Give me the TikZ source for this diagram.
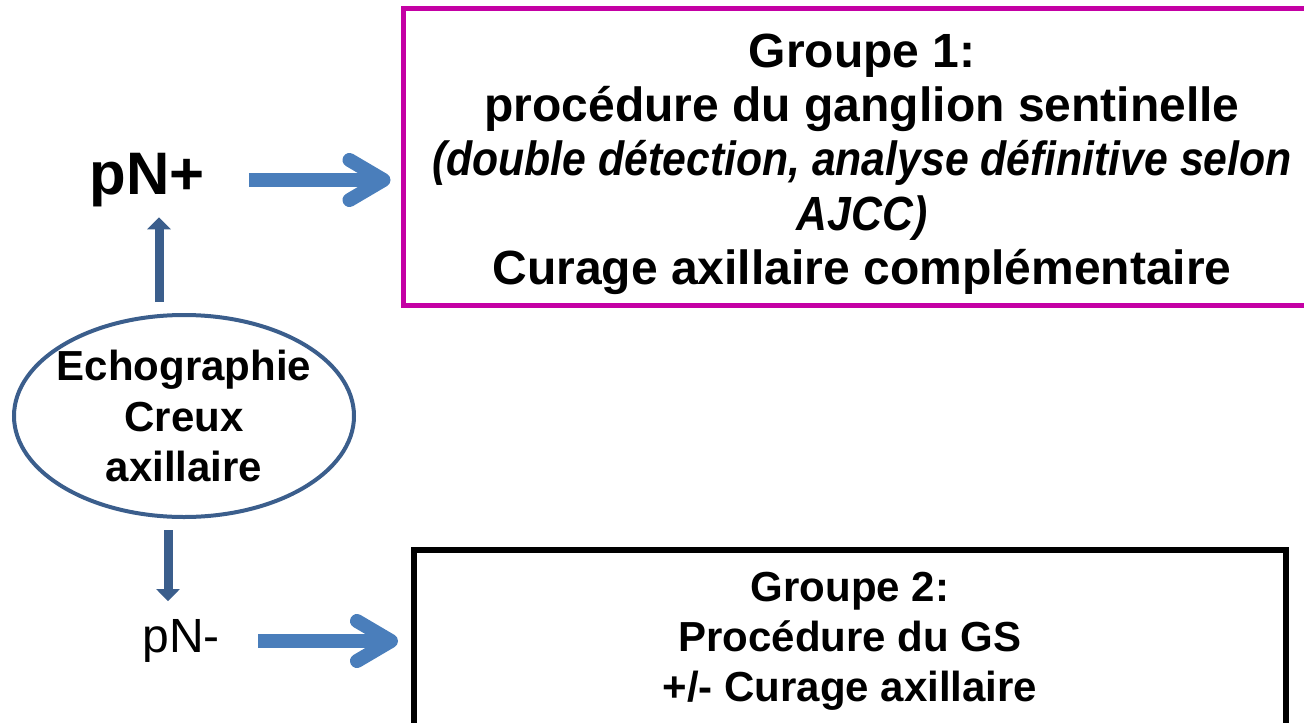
\documentclass[tikz,border=0pt]{standalone}
\usepackage{fontspec}
\setmainfont{Liberation Sans}
\usepackage{tikz}
\usetikzlibrary{arrows.meta,shapes.geometric}
\usepackage{xcolor}
\definecolor{echoblue}{RGB}{59,94,140}
\definecolor{flowblue}{RGB}{74,126,187}
\definecolor{groupmagenta}{RGB}{196,0,164}
\newcommand{\narrowit}[1]{\scalebox{0.89}[1]{\itshape #1}}

\begin{document}
\begin{tikzpicture}[
  x=0.5pt, y=-0.5pt,
  flow/.style={draw=flowblue, line width=7pt,
    -{Straight Barb[length=17pt, width=20pt, round]}},
  stem/.style={draw=echoblue, line width=4.5pt,
    -{Triangle[length=6pt, width=11.5pt]}}
  ]
  \tikzset{every group/.style={rectangle, align=center, font=\bfseries\fontsize{24}{27.2}\selectfont}}
  \tikzstyle{every node}=[inner sep=0pt]
  \useasboundingbox (0,0) rectangle (1304,722);
  \node[ellipse, draw=echoblue, line width=2pt, minimum width=170pt, minimum height=101pt,
    inner xsep=-4pt, inner ysep=-14pt,
    align=center, font=\bfseries\fontsize{21}{25.2}\selectfont] (echo) at (184,416)
    {Echographie\\Creux\\axillaire};
  \node[font=\bfseries\fontsize{30}{32}\selectfont] (pNplus) at (147,180) {pN+};
  \node[font=\fontsize{24}{26}\selectfont] (pNminus) at (181,641) {pN-};
  \node[every group, draw=groupmagenta, line width=2.5pt, minimum width=459pt, minimum height=148pt]
    (groupone) at (862,157)
    {\rule{0pt}{24pt}Groupe 1:\\procédure du ganglion sentinelle\\
     \narrowit{(double détection, analyse définitive selon}\\\narrowit{AJCC)}\\
     Curage axillaire complémentaire};
  \node[every group, draw=black, line width=3pt, minimum width=436pt, minimum height=91pt,
    font=\bfseries\fontsize{21}{25}\selectfont]
    (grouptwo) at (850,641)
    {Groupe 2:\\Procédure du GS\\+/- Curage axillaire};
  \coordinate (upx) at (159,0);
  \coordinate (downx) at (168,0);
  % connectors
  \draw[stem, shorten <=5.5pt, shorten >=5pt] (echo.north -| upx) -- (pNplus.south -| upx);
  \draw[stem, shorten <=5.5pt, shorten >=9pt] (echo.south -| downx) -- (pNminus.north -| downx);
  \draw[flow, shorten <=22pt, shorten >=5pt] (pNplus.east) -- (pNplus.east -| groupone.west);
  \draw[flow, shorten <=19pt, shorten >=6.5pt] (pNminus.east) -- (pNminus.east -| grouptwo.west);
\end{tikzpicture}
\end{document}
